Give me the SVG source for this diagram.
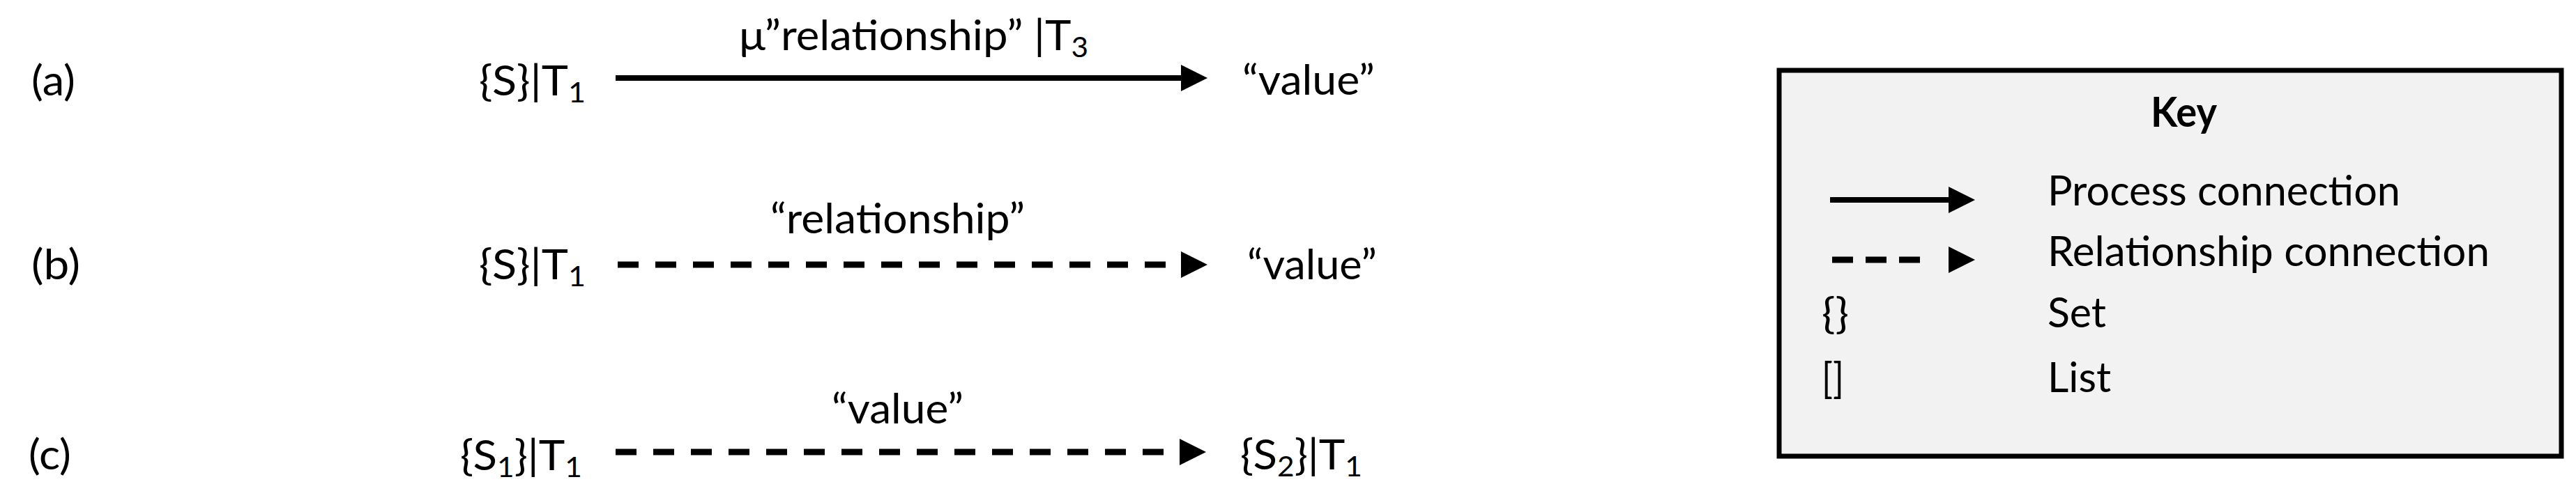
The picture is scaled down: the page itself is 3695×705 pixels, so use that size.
<svg xmlns="http://www.w3.org/2000/svg" width="3695" height="705" viewBox="0 0 3695 705">
<style>
text{font-family:Lato,"Open Sans","DejaVu Sans",sans-serif;font-size:60px;fill:#000}
.sub{font-size:40px}
.bold{font-weight:bold}
.solid{stroke:#000;stroke-width:8;fill:none}
.dash{stroke:#000;stroke-width:9;fill:none;stroke-dasharray:30 24}
</style>
<defs>
<marker id="arr" markerUnits="userSpaceOnUse" markerWidth="40" markerHeight="40" refX="0" refY="19" orient="auto" overflow="visible">
<path d="M0,0 L38,19 L0,38 Z" fill="#000"/>
</marker>
</defs>
<rect width="3695" height="705" fill="#fff"/>
<g id="labels">
<text x="45" y="137" textLength="63" lengthAdjust="spacingAndGlyphs">(a)</text>
<text x="45" y="401" textLength="70" lengthAdjust="spacingAndGlyphs">(b)</text>
<text x="41" y="674" textLength="61" lengthAdjust="spacingAndGlyphs">(c)</text>
</g>
<g id="node-a-source"><text x="687" y="137" textLength="153" lengthAdjust="spacingAndGlyphs">{S}|T<tspan class="sub" dy="10">1</tspan></text></g>
<g id="node-a-target"><text x="1782" y="136" textLength="190" lengthAdjust="spacingAndGlyphs">“value”</text></g>
<g id="node-b-source"><text x="687" y="401" textLength="153" lengthAdjust="spacingAndGlyphs">{S}|T<tspan class="sub" dy="10">1</tspan></text></g>
<g id="node-b-target"><text x="1789" y="401" textLength="186" lengthAdjust="spacingAndGlyphs">“value”</text></g>
<g id="node-c-source"><text x="660" y="675" textLength="175" lengthAdjust="spacingAndGlyphs">{S<tspan class="sub" dy="10">1</tspan><tspan dy="-10">}|T</tspan><tspan class="sub" dy="10">1</tspan></text></g>
<g id="node-c-target"><text x="1779" y="674" textLength="175" lengthAdjust="spacingAndGlyphs">{S<tspan class="sub" dy="10">2</tspan><tspan dy="-10">}|T</tspan><tspan class="sub" dy="10">1</tspan></text></g>
<g id="connectors">
<line class="solid" x1="883" y1="112" x2="1694" y2="112" marker-end="url(#arr)"/>
<text x="1060" y="72" textLength="501" lengthAdjust="spacingAndGlyphs">μ”relationship” |T<tspan class="sub" dy="10">3</tspan></text>
<line class="dash" x1="886" y1="380" x2="1694" y2="380" marker-end="url(#arr)"/>
<text x="1105" y="335" textLength="365" lengthAdjust="spacingAndGlyphs">“relationship”</text>
<line class="dash" x1="883" y1="649" x2="1692" y2="649" marker-end="url(#arr)"/>
<text x="1193" y="608" textLength="189" lengthAdjust="spacingAndGlyphs">“value”</text>
</g>
<g id="key">
<rect x="2552" y="101" width="1122" height="554" fill="#f2f2f2" stroke="#000" stroke-width="7"/>
<text class="bold" x="3085" y="182" textLength="95" lengthAdjust="spacingAndGlyphs">Key</text>
<line class="solid" x1="2625" y1="287" x2="2795" y2="287" marker-end="url(#arr)"/>
<text x="2937" y="295" textLength="506" lengthAdjust="spacingAndGlyphs">Process connection</text>
<line class="dash" x1="2628" y1="373" x2="2795" y2="373" style="stroke-dasharray:30 18 30 18 30 41" marker-end="url(#arr)"/>
<text x="2937" y="382" textLength="634" lengthAdjust="spacingAndGlyphs">Relationship connection</text>
<text x="2613" y="471" textLength="39" lengthAdjust="spacingAndGlyphs">{}</text>
<text x="2937" y="470" textLength="84" lengthAdjust="spacingAndGlyphs">Set</text>
<text x="2613" y="564" textLength="32" lengthAdjust="spacingAndGlyphs">[]</text>
<text x="2937" y="563" textLength="91" lengthAdjust="spacingAndGlyphs">List</text>
</g>
</svg>
